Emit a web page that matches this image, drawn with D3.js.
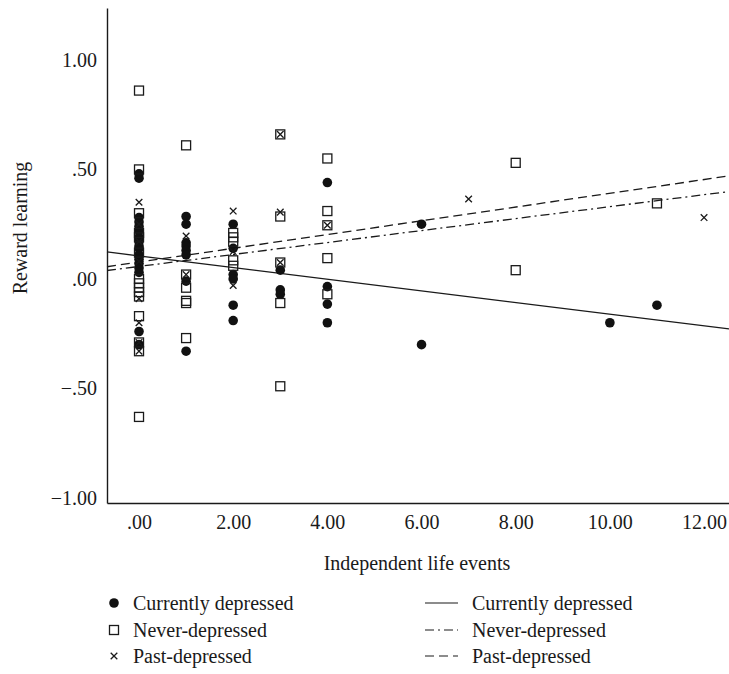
<!DOCTYPE html>
<html lang="en">
<head>
<meta charset="UTF-8">
<script src="https://d3js.org/d3.v7.min.js"></script>
<style>
  body { margin: 0; background: #fff; }
  svg text { font-family: "Liberation Serif", "DejaVu Serif", serif; fill: #1a1a1a; }
</style>
</head>
<body>
<div id="chart"></div>
<script>
// scatter points: [life events, reward learning]
const currentlyDepressed = [
  [0, 0.48], [0, 0.46], [0, 0.28], [0, 0.26], [0, 0.24], [0, 0.22], [0, 0.19], [0, 0.17],
  [0, 0.15], [0, 0.14], [0, 0.11], [0, 0.09], [0, 0.07], [0, 0.05], [0, 0.03], [0, -0.24], [0, -0.30],
  [1, 0.285], [1, 0.25], [1, 0.165], [1, 0.15], [1, 0.13], [1, 0.11], [1, -0.01], [1, -0.33],
  [2, 0.25], [2, 0.14], [2, 0.02], [2, 0.00], [2, -0.12], [2, -0.19],
  [3, 0.04], [3, -0.05], [3, -0.07],
  [4, 0.44], [4, -0.035], [4, -0.115], [4, -0.20],
  [6, 0.25], [6, -0.30], [10, -0.20], [11, -0.12]
];
const neverDepressed = [
  [0, 0.86], [0, 0.50], [0, 0.30], [0, 0.21], [0, 0.19], [0, 0.12], [0, 0.00], [0, -0.02],
  [0, -0.04], [0, -0.06], [0, -0.08], [0, -0.17], [0, -0.29], [0, -0.33], [0, -0.63],
  [1, 0.61], [1, 0.02], [1, -0.04], [1, -0.10], [1, -0.11], [1, -0.27],
  [2, 0.21], [2, 0.19], [2, 0.17], [2, 0.085], [2, 0.06],
  [3, 0.66], [3, 0.285], [3, 0.075], [3, -0.11], [3, -0.49],
  [4, 0.55], [4, 0.31], [4, 0.245], [4, 0.095], [4, -0.07],
  [8, 0.53], [8, 0.04], [11, 0.345]
];
const pastDepressed = [
  [0, 0.35], [0, 0.25], [0, 0.17], [0, 0.08], [0, -0.09], [0, -0.20], [0, -0.29], [0, -0.33],
  [1, 0.196], [1, 0.02],
  [2, 0.31], [2, 0.125], [2, -0.03],
  [3, 0.66], [3, 0.305], [3, 0.075],
  [4, 0.245],
  [7, 0.365], [12, 0.28]
];
// fitted lines: [intercept, slope]
const fitCurrent = [0.105, -0.0266];
const fitNever = [0.057, 0.0273];
const fitPast = [0.077, 0.0314];

const xTicks = [0, 2, 4, 6, 8, 10, 12];
const yTicks = [-1, -0.5, 0, 0.5, 1];
const legendLabels = ["Currently depressed", "Never-depressed", "Past-depressed"];

const W = 729, H = 674;
const fs = "20px";
const svg = d3.select("#chart").append("svg").attr("width", W).attr("height", H);

const x = d3.scaleLinear().domain([-0.68, 12.53]).range([107, 729]);
const y = d3.scaleLinear().domain([-1.023, 1.237]).range([503, 8]);

const fmt = v => {
  if (v === 0) return ".00";
  let s = Math.abs(v).toFixed(2);
  if (Math.abs(v) < 1) s = s.slice(1);
  return (v < 0 ? "\u2212" : "") + s;
};

// axes
const xAxis = d3.axisBottom(x).tickValues(xTicks).tickSize(0).tickPadding(12).tickFormat(fmt);
const yAxis = d3.axisLeft(y).tickValues(yTicks).tickSize(0).tickPadding(10).tickFormat(fmt);

const gx = svg.append("g").attr("transform", "translate(0," + 503 + ")").call(xAxis);
const gy = svg.append("g").attr("transform", "translate(107,0)").call(yAxis);
[gx, gy].forEach(g => {
  g.selectAll(".domain").attr("stroke", "#1a1a1a").attr("stroke-width", 1.4);
  g.selectAll("text").style("font-size", fs);
});

svg.append("text")
  .attr("x", 417).attr("y", 570)
  .attr("text-anchor", "middle")
  .style("font-size", fs)
  .text("Independent life events");

svg.append("text")
  .attr("transform", "translate(27,228) rotate(-90)")
  .attr("text-anchor", "middle")
  .style("font-size", fs)
  .text("Reward learning");

// regression lines
const lineStyles = [
  { fit: fitCurrent, dash: null },
  { fit: fitNever, dash: "9,4,2,4" },
  { fit: fitPast, dash: "9,5" }
];
const xd = x.domain();
lineStyles.forEach(s => {
  svg.append("line")
    .attr("x1", x(xd[0])).attr("y1", y(s.fit[0] + s.fit[1] * xd[0]))
    .attr("x2", x(xd[1])).attr("y2", y(s.fit[0] + s.fit[1] * xd[1]))
    .attr("stroke", "#1a1a1a").attr("stroke-width", 1.3)
    .attr("stroke-dasharray", s.dash);
});

// markers
const drawCircle = (g, cx, cy) => g.append("circle").attr("cx", cx).attr("cy", cy).attr("r", 4.8).attr("fill", "#111");
const drawSquare = (g, cx, cy) => g.append("rect").attr("x", cx - 4.5).attr("y", cy - 4.5)
  .attr("width", 9).attr("height", 9).attr("fill", "none").attr("stroke", "#1a1a1a").attr("stroke-width", 1.3);
const drawCross = (g, cx, cy) => g.append("path")
  .attr("d", `M${cx - 3.3},${cy - 3.3}L${cx + 3.3},${cy + 3.3}M${cx - 3.3},${cy + 3.3}L${cx + 3.3},${cy - 3.3}`)
  .attr("stroke", "#1a1a1a").attr("stroke-width", 1.3).attr("fill", "none");

const pts = svg.append("g");
currentlyDepressed.forEach(d => drawCircle(pts, x(d[0]), y(d[1])));
neverDepressed.forEach(d => drawSquare(pts, x(d[0]), y(d[1])));
pastDepressed.forEach(d => drawCross(pts, x(d[0]), y(d[1])));

// legend
const legendY = [604, 631, 657];
const leg = svg.append("g");
const markers = [drawCircle, drawSquare, drawCross];
legendLabels.forEach((lab, i) => {
  markers[i](leg, 114, legendY[i] - 1);
  leg.append("text").attr("x", 133).attr("y", legendY[i] + 6).style("font-size", fs).text(lab);
  leg.append("line")
    .attr("x1", 425).attr("x2", 458).attr("y1", legendY[i] - 1).attr("y2", legendY[i] - 1)
    .attr("stroke", "#1a1a1a").attr("stroke-width", 1.2)
    .attr("stroke-dasharray", lineStyles[i].dash);
  leg.append("text").attr("x", 472).attr("y", legendY[i] + 6).style("font-size", fs).text(lab);
});
</script>
</body>
</html>
